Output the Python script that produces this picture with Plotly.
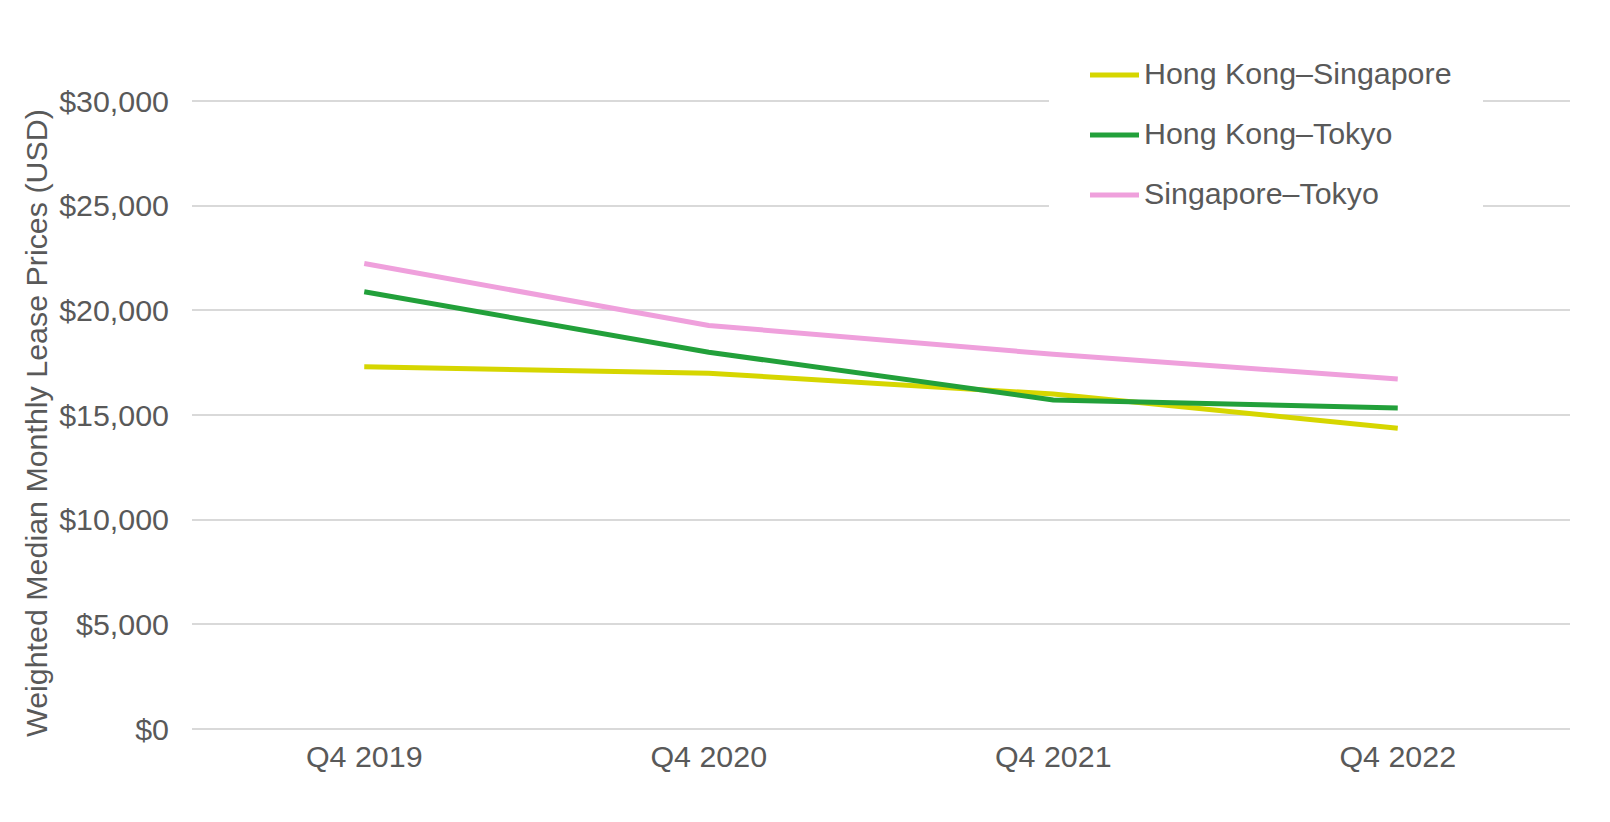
import plotly.graph_objects as go

categories = ["Q4 2019", "Q4 2020", "Q4 2021", "Q4 2022"]
hk_sg = [17300, 17000, 16000, 14370]
hk_tk = [20890, 18000, 15720, 15340]
sg_tk = [22240, 19280, 17900, 16720]
series_names = ["Hong Kong–Singapore", "Hong Kong–Tokyo", "Singapore–Tokyo"]
series_colors = ["#D6D600", "#22A03A", "#EFA0DC"]
y_ticks = [0, 5000, 10000, 15000, 20000, 25000, 30000]
y_tick_labels = ["$0", "$5,000", "$10,000", "$15,000", "$20,000", "$25,000", "$30,000"]
y_title = "Weighted Median Monthly Lease Prices (USD)"

FONT = "Liberation Sans, Arial, Helvetica, sans-serif"
GREY = "#595959"
FS = 30.4

W, H = 1610, 822
OFF = 8  # page body margin
ML, MR, MT, MB = 184, 48, 91, 99
PW, PH = W - ML - MR, H - MT - MB
X_RANGE = [-0.5, 3.5]
Y_RANGE = [-100, 30100]


def px_x(p):
    return (p - OFF - ML) / PW


def px_y(p):
    return (H - MB - (p - OFF)) / PH


def px_cat(p):
    return X_RANGE[0] + px_x(p) * (X_RANGE[1] - X_RANGE[0])


def px_val(p):
    return Y_RANGE[0] + px_y(p) * (Y_RANGE[1] - Y_RANGE[0])


fig = go.Figure()
for name, vals, col in zip(series_names, [hk_sg, hk_tk, sg_tk], series_colors):
    fig.add_trace(go.Scatter(
        x=categories, y=vals, mode="lines", name=name,
        line=dict(color=col, width=5), showlegend=False,
    ))

# Custom legend (white box interrupting gridlines, long line swatches)
shapes = [dict(type="rect", xref="x", yref="y", layer="between",
               x0=px_cat(1049), x1=px_cat(1483), y0=px_val(228), y1=Y_RANGE[1],
               fillcolor="white", line=dict(width=0))]
annotations = []
legend_rows = [75, 135, 195]
for name, col, yp in zip(series_names, series_colors, legend_rows):
    shapes.append(dict(type="line", xref="paper", yref="paper", layer="above",
                       x0=px_x(1090), x1=px_x(1139), y0=px_y(yp), y1=px_y(yp),
                       line=dict(color=col, width=5)))
    annotations.append(dict(text=name, xref="paper", yref="paper",
                            x=px_x(1142), y=px_y(yp - 2), xanchor="left",
                            yanchor="middle", showarrow=False,
                            font=dict(family=FONT, size=FS, color=GREY)))

# y-axis title as rotated annotation (placed as in the reference)
annotations.append(dict(text=y_title, xref="paper", yref="paper",
                        x=px_x(36), y=px_y(423), xanchor="center",
                        yanchor="middle", textangle=-90, showarrow=False,
                        font=dict(family=FONT, size=FS, color=GREY)))

fig.update_layout(
    width=W, height=H,
    paper_bgcolor="white", plot_bgcolor="white",
    margin=dict(l=ML, r=MR, t=MT, b=MB, autoexpand=False),
    font=dict(family=FONT, size=FS, color=GREY),
    showlegend=False,
    shapes=shapes, annotations=annotations,
    xaxis=dict(
        type="category", range=X_RANGE, automargin=False,
        showgrid=False, showline=False, zeroline=False,
        ticks="", ticklabelstandoff=5,
        tickfont=dict(family=FONT, size=FS, color=GREY),
    ),
    yaxis=dict(
        range=Y_RANGE, tickvals=y_ticks, ticktext=y_tick_labels,
        automargin=False,
        showgrid=True, gridcolor="#D9D9D9", gridwidth=1.5,
        zeroline=False, showline=False, ticks="", ticklabelstandoff=22,
        tickfont=dict(family=FONT, size=FS, color=GREY),
    ),
)

fig.write_html("out.html")
